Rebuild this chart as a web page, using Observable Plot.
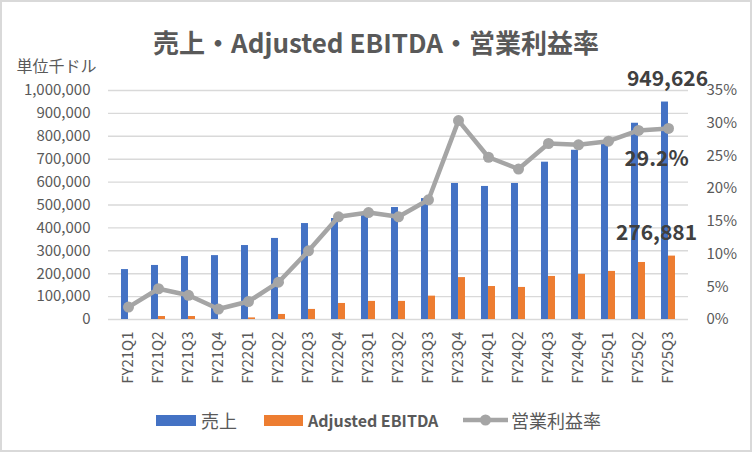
<!DOCTYPE html>
<html><head><meta charset="utf-8">
<script src="https://cdn.jsdelivr.net/npm/d3@7"></script>
<script src="https://cdn.jsdelivr.net/npm/@observablehq/plot@0.6"></script>
<style>
html,body{margin:0;padding:0;background:#fff;}
#wrap{position:relative;width:752px;height:452px;box-shadow:inset 0 0 0 2px #d9d9d9;font-family:"Noto Sans CJK JP","Noto Sans",sans-serif;color:#595959;overflow:hidden;}
#title{height:28px;padding-top:28px;line-height:28px;text-align:center;font-size:26px;font-weight:bold;color:#595959;white-space:nowrap;}
#legend{position:relative;height:52px;}
#legend .sw{position:absolute;top:15px;height:11px;}
#legend .lb{position:absolute;top:9px;line-height:22px;font-size:18px;color:#595959;white-space:nowrap;}
#chart svg{display:block;}
</style></head>
<body>
<div id="wrap">
  <div id="title">売上・Adjusted EBITDA・営業利益率</div>
  <div id="chart"></div>
  <div id="legend"></div>
</div>
<script>
const categories = ["FY21Q1","FY21Q2","FY21Q3","FY21Q4","FY22Q1","FY22Q2","FY22Q3","FY22Q4","FY23Q1","FY23Q2","FY23Q3","FY23Q4","FY24Q1","FY24Q2","FY24Q3","FY24Q4","FY25Q1","FY25Q2","FY25Q3"];
const sales = [218000,236000,275000,279000,323000,354000,419000,441000,463000,489000,528000,594000,581000,594000,687000,739000,767000,857000,949626];
const ebitda = [0,13000,13000,0,7000,22000,44000,70000,79000,79000,102000,183000,144000,140000,188000,197000,210000,249000,276881];
const marginPct = [1.9,4.7,3.7,1.6,2.75,5.7,10.5,15.7,16.35,15.7,18.3,30.4,24.8,23.0,26.9,26.7,27.25,28.9,29.2];
const leftTicks = [0,100000,200000,300000,400000,500000,600000,700000,800000,900000,1000000];
const rightTicks = [0,5,10,15,20,25,30,35];
const seriesNames = ["売上","Adjusted EBITDA","営業利益率"];
const colors = ["#4472C4","#ED7D31","#A5A5A5"];
const unitLabel = "単位千ドル";

const yMax = 1000000, pMax = 35;
const toY = p => p * yMax / pMax;
const rows = categories.map((c,i)=>({cat:c, sales:sales[i], ebitda:ebitda[i], pct:marginPct[i], py:toY(marginPct[i])}));
const last = rows[rows.length-1];
const font = '"Noto Sans CJK JP","Noto Sans",sans-serif';

const plot = Plot.plot({
  width: 752, height: 344,
  marginTop: 34, marginBottom: 81, marginLeft: 108, marginRight: 64,
  style: {fontFamily: font, color: "#595959", background: "transparent", overflow: "visible"},
  x: {domain: categories, paddingInner: 0.54, paddingOuter: 0.27, axis: null},
  y: {domain: [0, yMax], axis: null},
  marks: [
    Plot.gridY(leftTicks, {stroke: "#D9D9D9", strokeOpacity: 1, strokeWidth: 1.4}),
    Plot.barY(rows, {x: "cat", y: "sales", fill: colors[0], insetRight: 7.02}),
    Plot.barY(rows, {x: "cat", y: "ebitda", fill: colors[1], insetLeft: 7.02}),
    Plot.line(rows, {x: "cat", y: "py", stroke: colors[2], strokeWidth: 4.5}),
    Plot.dot(rows, {x: "cat", y: "py", fill: colors[2], r: 5.5}),
    Plot.axisY(leftTicks, {anchor: "left", tickSize: 0, tickPadding: 18, fontSize: 15, tickFormat: d3.format(","), fill: "#595959"}),
    Plot.axisY(rightTicks.map(toY), {anchor: "right", tickSize: 0, tickPadding: 18, fontSize: 15, tickFormat: d => Math.round(d*pMax/yMax) + "%", fill: "#595959"}),
    Plot.axisX({anchor: "bottom", tickSize: 0, tickPadding: 12, tickRotate: -90, fontSize: 15, fill: "#595959", label: null}),
    Plot.text([unitLabel], {frameAnchor: "top-left", text: d => d, dx: -92, dy: -24, lineAnchor: "middle", textAnchor: "start", fontSize: 16, fill: "#595959"}),
    Plot.text([last], {x: "cat", y: "sales", text: d => d3.format(",")(d.sales), dx: -1, dy: -23, fontSize: 21, fontWeight: "bold", fill: "#404040"}),
    Plot.text([last], {x: "cat", y: "ebitda", text: d => d3.format(",")(d.ebitda), dx: -12, dy: -23, fontSize: 21, fontWeight: "bold", fill: "#404040"}),
    Plot.text([last], {x: "cat", y: "py", text: d => d.pct.toFixed(1) + "%", dx: -12, dy: 31, fontSize: 21, fontWeight: "bold", fill: "#404040"})
  ]
});
document.getElementById("chart").appendChild(plot);

const lg = document.getElementById("legend");
lg.innerHTML = `
  <div class="sw" style="left:156px;width:40px;background:${colors[0]}"></div>
  <div class="lb" style="left:201px">${seriesNames[0]}</div>
  <div class="sw" style="left:264px;width:39px;background:${colors[1]}"></div>
  <div class="lb" style="left:308px;font-weight:bold;font-size:16px">${seriesNames[1]}</div>
  <svg style="position:absolute;left:463px;top:10px" width="46" height="20"><line x1="0" y1="10" x2="45" y2="10" stroke="${colors[2]}" stroke-width="4.5"/><circle cx="22.5" cy="10" r="5.5" fill="${colors[2]}"/></svg>
  <div class="lb" style="left:511px">${seriesNames[2]}</div>`;
</script>
</body></html>
